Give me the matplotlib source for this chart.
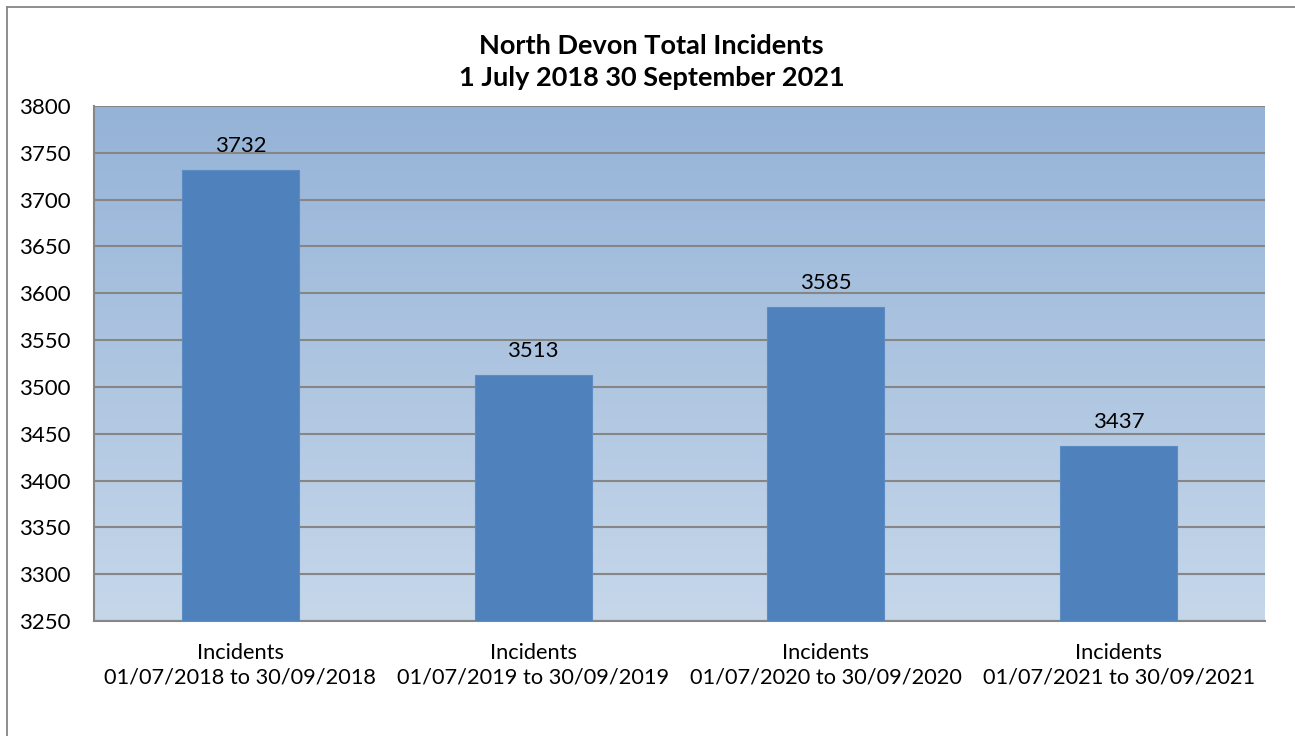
import numpy as np
import matplotlib.pyplot as plt
from matplotlib.colors import LinearSegmentedColormap
from matplotlib.lines import Line2D

categories = ["Incidents\n01/07/2018 to 30/09/2018",
              "Incidents\n01/07/2019 to 30/09/2019",
              "Incidents\n01/07/2020 to 30/09/2020",
              "Incidents\n01/07/2021 to 30/09/2021"]
values = [3732, 3513, 3585, 3437]
yticks = list(range(3250, 3801, 50))

plt.rcParams['font.family'] = ['Lato', 'DejaVu Sans']

fig = plt.figure(figsize=(12.95, 7.36), dpi=100)
ax = fig.add_axes([0.0726, 0.1563, 0.9042, 0.6997])

# outer chart border (only left and top fall inside the picture)
bx, by = 6.5 / 1295, 1 - 6.5 / 736
fig.lines.append(Line2D([bx, bx], [0, by], transform=fig.transFigure,
                        color='#868686', linewidth=1.3))
fig.lines.append(Line2D([bx, 1.01], [by, by], transform=fig.transFigure,
                        color='#868686', linewidth=1.3))

# gradient plot area
grad = np.linspace(0, 1, 256).reshape(-1, 1)
cmap = LinearSegmentedColormap.from_list('bg', ['#C6D7EA', '#95B3D7'])
ax.imshow(grad, aspect='auto', cmap=cmap, origin='lower',
          extent=(-0.5, 3.5, 3250, 3800), zorder=0)

x = np.arange(len(categories))
ax.bar(x, values, width=0.4, color='#4F81BD', edgecolor='#5B8CC4',
       linewidth=0.8, zorder=3)

for xi, v in zip(x, values):
    ax.annotate(str(v), (xi, v), xytext=(0, 10), textcoords='offset points',
                ha='center', va='bottom', fontsize=16, zorder=4)

ax.set_xlim(-0.5, 3.5)
ax.set_ylim(3250, 3800)
ax.set_yticks(yticks)
ax.set_xticks(x)
ax.set_xticklabels(categories, fontsize=15.7, linespacing=1.25)
ax.tick_params(axis='y', length=0, pad=17, labelsize=16)
ax.tick_params(axis='x', length=0, pad=16)
ax.grid(axis='y', color='#868686', linewidth=1.5, zorder=1)
ax.set_axisbelow(True)

for s in ['right', 'top']:
    ax.spines[s].set_visible(False)
for s in ['left', 'bottom']:
    ax.spines[s].set_color('#868686')
    ax.spines[s].set_linewidth(1.5)

fig.text(0.503, 0.916, "North Devon Total Incidents\n1 July 2018 30 September 2021",
         ha='center', va='center', fontsize=19.5, fontweight='bold',
         linespacing=1.38)

fig.savefig('out.png', dpi=100)
